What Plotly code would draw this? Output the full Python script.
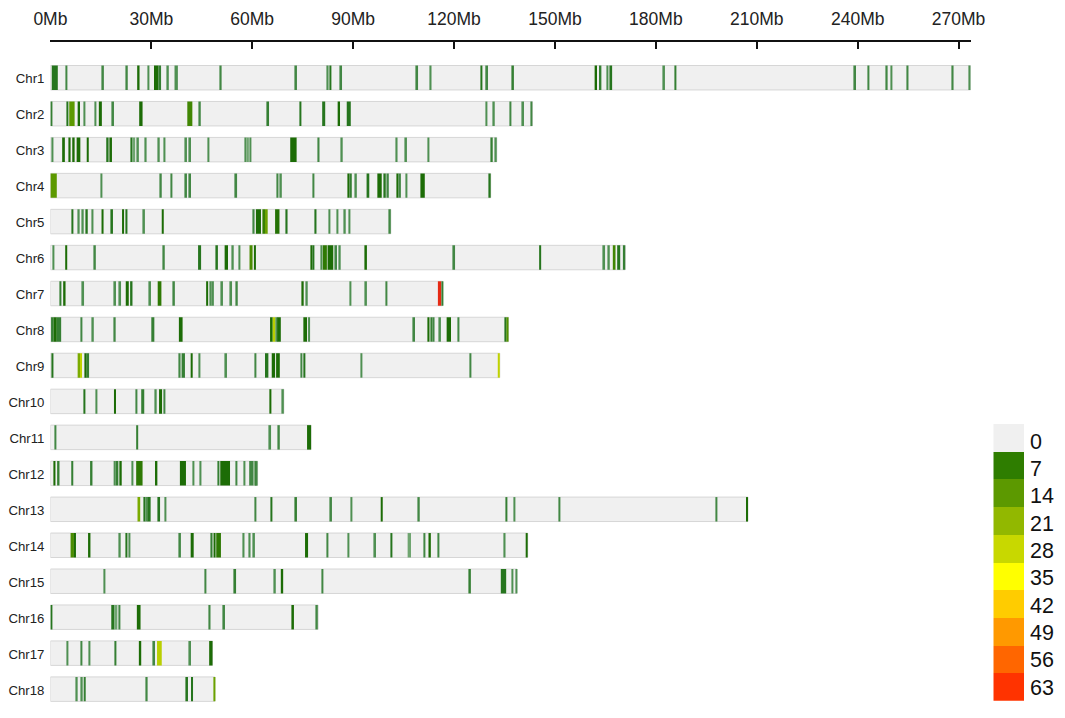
import plotly.graph_objects as go

# chromosome lengths in Mb
chr_names = ["Chr%d" % i for i in range(1, 19)]
chr_lengths = [273.6, 143.3, 132.7, 130.9, 101.2, 170.9, 116.6, 136.2, 133.6,
               69.4, 77.5, 61.6, 207.4, 141.9, 138.7, 79.6, 48.2, 48.9]

# windows per chromosome: (start Mb, end Mb, variant count)
chr1 = [(0.4, 2.2, 6), (4.5, 5.0, 4), (15.4, 15.9, 4), (22.3, 23.0, 4), (25.8, 26.5, 7), (28.9, 29.4, 3),
        (30.8, 32.1, 7), (32.1, 32.9, 5), (34.7, 35.2, 3), (36.9, 37.9, 3), (50.4, 50.9, 4), (72.8, 73.3, 4),
        (82.2, 82.7, 3), (83.0, 83.4, 6), (86.2, 86.7, 4), (108.8, 109.3, 4), (112.8, 113.3, 3),
        (127.9, 128.4, 6), (129.3, 130.1, 4), (137.3, 137.8, 5), (161.8, 162.5, 7), (163.1, 163.8, 5),
        (165.4, 165.9, 3), (166.2, 167.0, 6), (182.2, 182.7, 3), (185.6, 186.1, 5), (239.0, 239.5, 4),
        (242.9, 243.4, 4), (248.4, 248.9, 4), (249.8, 250.3, 3), (254.6, 255.1, 4), (268.0, 268.5, 4),
        (273.1, 273.6, 3)]
chr2 = [(0.1, 0.6, 5), (4.9, 5.3, 6), (5.6, 7.2, 14), (8.1, 8.8, 7), (9.9, 10.4, 3), (13.1, 13.6, 3),
        (14.4, 15.3, 7), (18.4, 18.9, 4), (26.4, 27.4, 7), (40.7, 42.2, 11), (44.2, 44.7, 4), (64.5, 65.0, 5),
        (74.1, 74.6, 6), (80.8, 81.7, 6), (85.4, 86.1, 7), (88.1, 89.3, 6), (129.4, 129.9, 3), (131.6, 132.1, 3),
        (136.5, 137.0, 4), (140.3, 140.8, 3), (142.8, 143.3, 4)]
chr3 = [(0.4, 0.9, 3), (3.5, 4.3, 7), (5.5, 6.0, 7), (6.5, 7.2, 7), (7.8, 8.9, 7), (10.8, 11.4, 7),
        (16.6, 17.3, 6), (17.8, 18.3, 7), (23.9, 24.4, 6), (24.4, 25.2, 2), (25.8, 26.3, 3), (28.1, 28.6, 3),
        (32.0, 32.5, 3), (33.7, 34.2, 3), (40.1, 40.6, 3), (41.3, 41.8, 3), (46.7, 47.2, 3), (57.7, 58.1, 3),
        (58.5, 59.0, 2), (59.2, 59.7, 3), (71.3, 73.2, 7), (79.5, 80.0, 4), (86.4, 86.9, 3), (102.7, 103.2, 3),
        (105.5, 106.0, 3), (112.1, 112.6, 3), (131.0, 131.5, 5), (132.2, 132.7, 3)]
chr4 = [(0.0, 1.9, 14), (14.9, 15.4, 3), (32.6, 33.1, 4), (35.7, 36.2, 4), (40.1, 40.6, 4), (41.3, 41.8, 4),
        (54.7, 55.5, 4), (67.3, 67.8, 4), (68.3, 68.8, 3), (77.9, 78.4, 4), (88.4, 88.9, 7), (88.9, 89.6, 5),
        (90.6, 91.1, 3), (94.0, 94.8, 6), (97.2, 98.5, 7), (99.0, 99.7, 6), (99.9, 100.6, 4), (102.9, 103.4, 7),
        (103.7, 104.2, 4), (105.6, 106.1, 3), (110.0, 111.3, 7), (130.4, 130.9, 6)]
chr5 = [(6.3, 6.8, 6), (8.2, 8.7, 3), (9.4, 9.9, 3), (10.6, 11.1, 6), (12.3, 12.8, 3), (15.2, 15.8, 7),
        (18.1, 18.6, 6), (21.3, 21.9, 7), (22.3, 22.9, 6), (27.6, 28.1, 3), (33.1, 33.7, 7), (60.2, 60.7, 4),
        (61.1, 62.6, 7), (63.3, 63.8, 10), (63.8, 64.6, 16), (66.8, 68.1, 8), (70.0, 70.5, 6), (78.6, 79.1, 6),
        (82.7, 83.2, 3), (85.1, 85.6, 3), (87.3, 87.8, 3), (88.6, 89.1, 3), (100.7, 101.2, 4)]
chr6 = [(0.6, 1.1, 3), (4.4, 5.0, 7), (13.0, 13.5, 4), (33.5, 34.0, 4), (43.9, 44.8, 6), (49.3, 49.8, 6),
        (51.8, 52.8, 7), (54.0, 54.5, 3), (55.9, 56.4, 3), (59.2, 60.1, 12), (60.5, 61.1, 7), (77.3, 77.7, 7),
        (78.0, 78.4, 6), (80.4, 80.9, 3), (81.0, 82.2, 9), (82.4, 84.1, 7), (84.7, 85.2, 4), (85.8, 86.3, 3),
        (93.6, 94.1, 7), (119.8, 120.3, 4), (145.3, 145.9, 6), (164.4, 164.9, 3), (165.8, 166.3, 3),
        (167.2, 168.0, 11), (168.5, 169.4, 6), (170.2, 170.9, 5)]
chr7 = [(2.7, 3.2, 5), (3.8, 4.5, 7), (9.5, 10.0, 3), (19.0, 19.5, 3), (20.5, 21.0, 3), (22.4, 23.3, 7),
        (23.7, 24.4, 6), (29.4, 29.9, 3), (31.9, 33.0, 9), (36.5, 37.0, 4), (46.3, 46.9, 7), (47.4, 47.9, 3),
        (48.1, 48.6, 3), (50.8, 51.3, 3), (53.5, 54.0, 3), (55.2, 55.7, 4), (74.8, 75.3, 7), (76.0, 76.5, 3),
        (88.9, 89.4, 3), (93.6, 94.1, 3), (99.6, 100.1, 4), (115.2, 116.2, 63), (116.3, 116.6, 5)]
chr8 = [(0.2, 0.9, 5), (0.9, 1.9, 7), (1.9, 3.2, 5), (9.0, 9.5, 4), (12.4, 12.9, 3), (18.9, 19.4, 4),
        (30.0, 30.9, 5), (38.2, 39.3, 7), (65.3, 66.1, 7), (66.1, 66.9, 26), (66.9, 67.3, 3), (67.4, 68.5, 7),
        (75.2, 76.3, 7), (76.6, 77.2, 3), (107.9, 108.4, 4), (112.2, 112.7, 7), (113.1, 113.5, 5),
        (113.8, 114.2, 4), (115.6, 116.1, 3), (117.8, 119.1, 7), (121.1, 121.6, 4), (135.1, 135.6, 6),
        (135.8, 136.2, 13)]
chr9 = [(0.3, 0.9, 6), (8.1, 8.8, 18), (8.8, 9.4, 27), (10.3, 10.8, 7), (10.8, 11.5, 5), (38.2, 38.7, 4),
        (39.0, 40.0, 5), (41.7, 42.3, 7), (44.0, 44.5, 3), (52.0, 52.5, 3), (60.7, 61.2, 4), (63.8, 64.8, 6),
        (65.8, 66.8, 7), (67.1, 68.2, 7), (74.4, 74.8, 4), (75.2, 75.8, 6), (92.2, 92.7, 3), (124.6, 125.1, 4),
        (133.0, 133.6, 27)]
chr10 = [(9.9, 10.4, 6), (13.4, 13.9, 3), (18.9, 19.5, 7), (25.3, 25.8, 4), (27.0, 27.9, 5), (31.1, 31.6, 3),
         (32.3, 33.2, 7), (33.6, 34.1, 4), (65.1, 65.7, 7), (68.9, 69.4, 3)]
chr11 = [(1.2, 1.7, 4), (25.5, 26.1, 5), (65.1, 65.6, 3), (67.7, 68.2, 4), (76.3, 77.5, 7)]
chr12 = [(1.0, 1.5, 7), (2.0, 2.7, 5), (6.2, 6.8, 5), (11.8, 12.5, 5), (18.8, 19.4, 3), (19.4, 20.2, 5),
         (20.5, 21.2, 7), (24.1, 24.6, 3), (25.5, 27.4, 9), (31.1, 31.8, 7), (38.5, 40.3, 7), (42.3, 42.8, 3),
         (44.4, 44.9, 3), (49.7, 50.2, 5), (50.5, 53.4, 7), (55.0, 55.5, 4), (57.4, 57.9, 3), (59.1, 60.4, 4),
         (60.7, 61.0, 5), (61.2, 61.6, 4)]
chr13 = [(25.9, 26.7, 18), (27.8, 28.1, 6), (28.3, 28.8, 3), (28.8, 29.8, 6), (32.1, 32.6, 6), (33.9, 34.4, 3),
         (60.7, 61.2, 4), (65.5, 66.0, 6), (72.8, 73.3, 5), (83.2, 83.7, 4), (89.2, 89.7, 3), (98.2, 98.8, 7),
         (109.3, 109.8, 4), (135.3, 135.8, 5), (137.7, 138.2, 3), (151.1, 151.6, 4), (197.7, 198.2, 4),
         (206.8, 207.4, 7)]
chr14 = [(6.0, 7.0, 12), (7.0, 7.6, 7), (11.2, 11.9, 7), (20.4, 20.9, 3), (22.3, 22.9, 6), (23.2, 23.7, 3),
         (38.3, 38.8, 4), (41.7, 42.6, 7), (47.7, 48.2, 5), (48.5, 49.1, 7), (49.3, 50.7, 9), (57.2, 57.7, 3),
         (59.0, 59.5, 3), (60.3, 60.8, 3), (75.7, 76.6, 7), (82.1, 82.6, 4), (88.3, 88.8, 3), (96.3, 96.8, 3),
         (101.1, 101.6, 6), (106.2, 107.2, 2), (110.9, 111.4, 4), (112.4, 113.1, 7), (115.1, 115.6, 4),
         (134.8, 135.3, 3), (141.3, 141.9, 7)]
chr15 = [(15.8, 16.3, 3), (45.8, 46.3, 4), (54.7, 55.2, 5), (66.5, 67.0, 3), (68.5, 69.2, 7), (80.6, 81.1, 4),
         (124.5, 125.0, 5), (133.9, 135.5, 6), (137.1, 137.6, 3), (138.3, 138.7, 3)]
chr16 = [(0.0, 0.5, 6), (18.1, 19.0, 6), (19.0, 19.9, 2), (20.3, 20.7, 4), (25.7, 26.8, 7), (47.1, 47.6, 4),
         (51.4, 51.9, 4), (71.9, 72.4, 7), (79.0, 79.5, 4)]
chr17 = [(4.8, 5.3, 3), (9.0, 9.5, 4), (11.3, 11.8, 3), (19.1, 19.6, 5), (26.3, 27.0, 7), (30.6, 31.1, 4),
         (31.7, 33.1, 26), (41.3, 41.8, 3), (47.2, 48.2, 7)]
chr18 = [(7.6, 8.1, 3), (9.1, 9.6, 3), (9.9, 10.5, 5), (28.4, 28.9, 4), (40.4, 40.9, 6), (41.8, 42.4, 6),
         (48.6, 48.9, 16)]

mb_ticks = [0, 30, 60, 90, 120, 150, 180, 210, 240, 270]
mb_labels = ["%dMb" % t for t in mb_ticks]

legend_levels = [0, 7, 14, 21, 28, 35, 42, 49, 56, 63]
legend_colors = ["#f0f0f0", "#2e7d00", "#5c9900", "#92b800", "#c8d800",
                 "#ffff00", "#ffcc00", "#ff9900", "#ff6600", "#ff3300"]

all_chr = [chr1, chr2, chr3, chr4, chr5, chr6, chr7, chr8, chr9, chr10,
           chr11, chr12, chr13, chr14, chr15, chr16, chr17, chr18]

# page body keeps its 8px margin, so the figure sits inside it
W, H = 1049, 702
PAD = 8
FONT = "Liberation Sans, Arial, sans-serif"


def fx(px):
    return (px - PAD) / W


def fy(px):
    return 1 - (px - PAD) / H


# thin low-count windows come out washed-out in the original, so low counts fade
scale_max = 63
stops = [(0, "#95bd95"), (2, "#6fa570"), (3, "#4f9052"), (4, "#428744"), (5, "#357f33"), (6, "#26751e"),
         (7, "#1c6c06"), (14, "#5c9900"), (21, "#92b800"), (28, "#c8d800"), (35, "#ffff00"),
         (42, "#ffcc00"), (49, "#ff9900"), (56, "#ff6600"), (63, "#e62a14")]
colorscale = [[v / scale_max, c] for v, c in stops]

y, base, size, counts = [], [], [], []
for name, windows in zip(chr_names, all_chr):
    for start, end, n in windows:
        y.append(name)
        base.append(start)
        size.append(end - start)
        counts.append(n)

fig = go.Figure()

# chromosome backgrounds
fig.add_trace(go.Bar(x=chr_lengths, y=chr_names, orientation="h", width=0.68,
                     marker=dict(color="#f0f0f0", line=dict(color="#d6d6d6", width=1)),
                     hoverinfo="skip", showlegend=False))
fig.add_trace(go.Bar(x=size, y=y, base=base, orientation="h", width=0.68,
                     marker=dict(color=counts, colorscale=colorscale, cmin=0, cmax=scale_max, line_width=0),
                     showlegend=False))

# colour key
key_scale = []
n_levels = len(legend_levels)
for i, c in enumerate(legend_colors):
    key_scale += [[i / n_levels, c], [(i + 1) / n_levels, c]]
fig.add_trace(go.Heatmap(z=[[i] for i in range(n_levels)], x=[0], y=list(range(n_levels)),
                         colorscale=key_scale, zmin=-0.5, zmax=n_levels - 0.5, showscale=False,
                         xaxis="x2", yaxis="y2", hoverinfo="skip"))

fig.update_layout(
    width=W, height=H, margin=dict(l=0, r=0, t=0, b=0),
    paper_bgcolor="white", plot_bgcolor="white",
    barmode="overlay", font=dict(family=FONT, color="#222222"),
    xaxis=dict(domain=[fx(50.4), fx(970.7)], range=[0, 273.6], side="top", anchor="y", automargin=False,
               tickmode="array", tickvals=mb_ticks, ticktext=mb_labels,
               ticks="inside", ticklen=7, tickwidth=2, tickcolor="#111111",
               showline=True, linewidth=2, linecolor="#111111", showgrid=False, zeroline=False,
               tickfont=dict(size=17.5), ticklabelstandoff=8),
    yaxis=dict(domain=[0, fy(42)], range=[17.58, -0.993], type="category", automargin=False,
               categoryorder="array", categoryarray=chr_names, anchor="x",
               showgrid=False, zeroline=False, showline=False, ticks="",
               tickfont=dict(size=13.2), ticklabelstandoff=5, ticklabelshift=-1),
    xaxis2=dict(domain=[fx(993.3), fx(1024)], anchor="y2", visible=False, range=[-0.5, 0.5], automargin=False),
    yaxis2=dict(domain=[fy(700.7), fy(424)], anchor="x2", side="right", range=[9.5, -0.5], automargin=False,
                tickmode="array", tickvals=[0.12 + i * 0.988 for i in range(n_levels)],
                ticktext=[str(v) for v in legend_levels], showgrid=False, zeroline=False,
                ticks="", tickfont=dict(size=21.5, color="#111111"), ticklabelstandoff=5),
)

fig.write_html("out.html")
